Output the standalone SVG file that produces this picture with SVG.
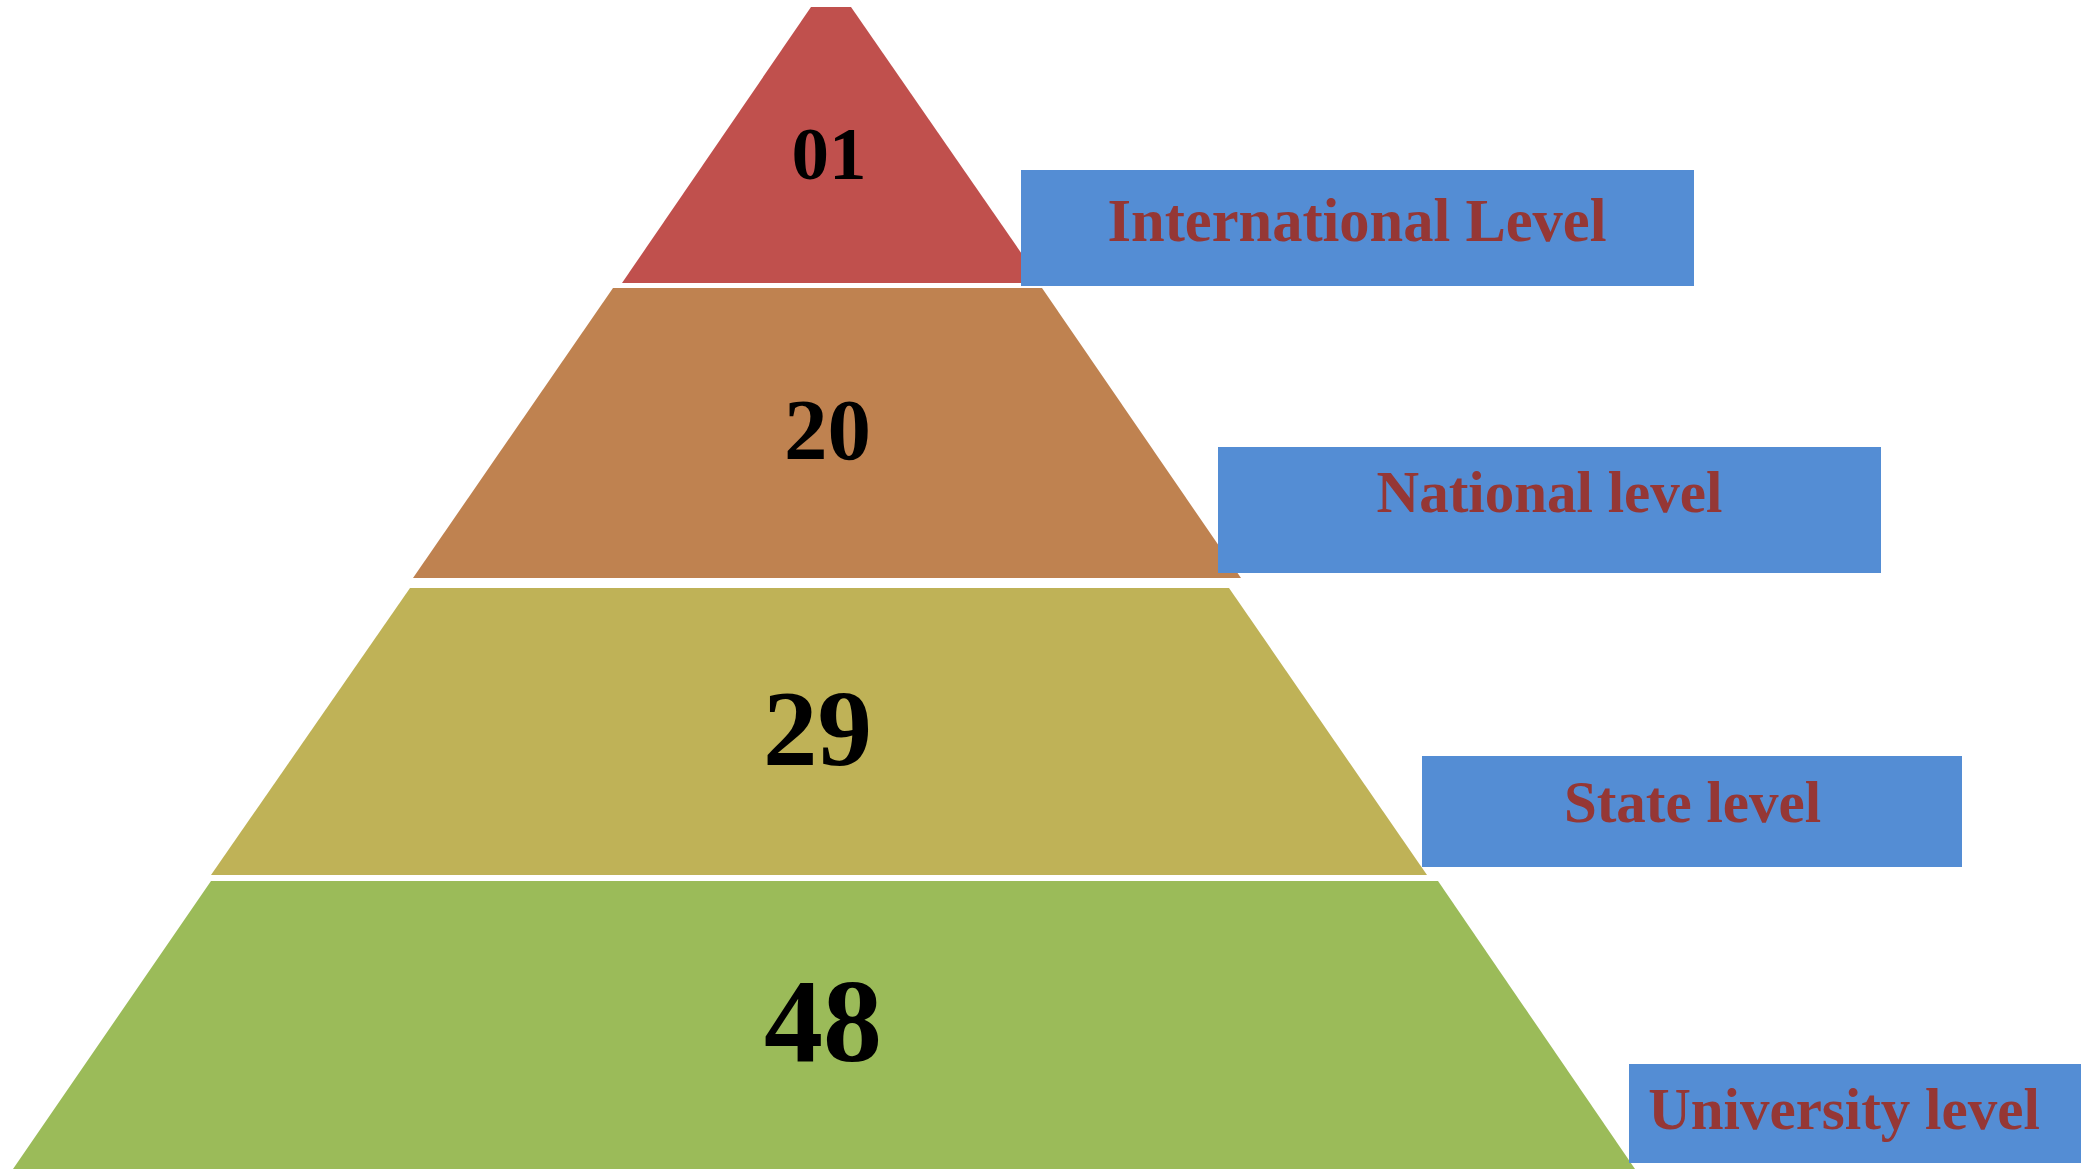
<svg xmlns="http://www.w3.org/2000/svg" width="2081" height="1169" viewBox="0 0 2081 1169">
<style>
.num{font-family:"Liberation Serif","Times New Roman",serif;font-weight:bold;fill:#000;text-anchor:middle}
.lab{font-family:"Liberation Serif","Times New Roman",serif;font-weight:bold;fill:#953735;text-anchor:middle;font-size:59px}
.box{fill:#548DD4}
</style>
<rect width="2081" height="1169" fill="#fff"/>
<g id="tier-international">
<polygon points="811,7 851,7 1042,283 622,283" fill="#C0504D"/>
<text class="num" x="829" y="179" font-size="75">01</text>
</g>
<g id="tier-national">
<polygon points="613,288 1042,288 1241,578 413,578" fill="#BF8250"/>
<text class="num" x="827.5" y="459" font-size="87">20</text>
</g>
<g id="tier-state">
<polygon points="410,588 1229,588 1427,875 211,875" fill="#BFB257"/>
<text class="num" x="817.5" y="765" font-size="109">29</text>
</g>
<g id="tier-university">
<polygon points="211,881 1438,881 1635,1169 13,1169" fill="#9BBB59"/>
<text class="num" x="823" y="1061" font-size="118">48</text>
</g>
<g id="label-international">
<rect class="box" x="1021" y="170" width="673" height="116"/>
<text class="lab" x="1357" y="241" font-size="60" style="font-size:60.5px">International Level</text>
</g>
<g id="label-national">
<rect class="box" x="1218" y="447" width="663" height="126"/>
<text class="lab" x="1549.5" y="512">National level</text>
</g>
<g id="label-state">
<rect class="box" x="1422" y="756" width="540" height="111"/>
<text class="lab" x="1692.5" y="822">State level</text>
</g>
<g id="label-university">
<rect class="box" x="1629" y="1064" width="460" height="99"/>
<text class="lab" x="1844" y="1129">University level</text>
</g>
<g id="connectors"></g>
</svg>
